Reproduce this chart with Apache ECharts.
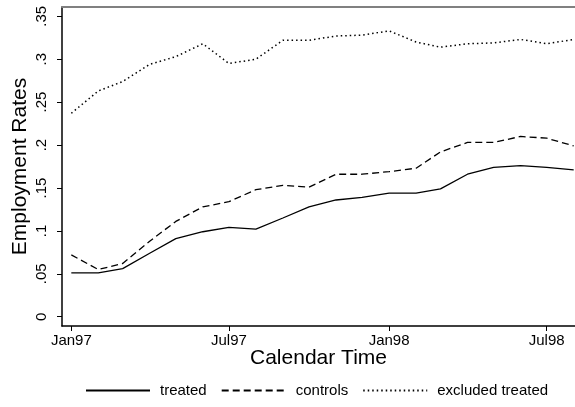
<!DOCTYPE html>
<html>
<head>
<meta charset="utf-8">
<script src="https://cdn.jsdelivr.net/npm/echarts@6/dist/echarts.min.js"></script>
<style>html,body{margin:0;padding:0;background:#fff}#c{width:575px;height:407px}</style>
</head>
<body>
<div id="c"></div>
<script>
// Monthly observations, Jan 1997 .. Aug 1998
var months = ['1997-01','1997-02','1997-03','1997-04','1997-05','1997-06','1997-07','1997-08','1997-09','1997-10','1997-11','1997-12',
              '1998-01','1998-02','1998-03','1998-04','1998-05','1998-06','1998-07','1998-08'];
var treated  = [0.051,0.051,0.056,0.074,0.091,0.099,0.104,0.102,0.115,0.128,0.136,0.139,0.144,0.144,0.149,0.166,0.174,0.176,0.174,0.171];
var controls = [0.072,0.055,0.062,0.088,0.111,0.128,0.134,0.148,0.153,0.151,0.166,0.166,0.169,0.173,0.192,0.203,0.203,0.210,0.208,0.199];
var excluded = [0.237,0.263,0.274,0.294,0.303,0.318,0.295,0.300,0.322,0.322,0.327,0.328,0.333,0.320,0.314,0.318,0.319,0.323,0.318,0.323];
var xTickMonths = ['1997-01','1997-07','1998-01','1998-07'];
var yTicks = [0,0.05,0.1,0.15,0.2,0.25,0.3,0.35];
var yTickLabels = ['0','.05','.1','.15','.2','.25','.3','.35'];
var seriesNames = ['treated','controls','excluded treated'];

// x positions: days since 1 Jan 1997 (UTC arithmetic, no timezone effects)
var DAY=86400000;
function dayOf(m){var p=m.split('-');return (Date.UTC(+p[0],+p[1]-1,1)-Date.UTC(1997,0,1))/DAY;}
var monAbbr=['Jan','Feb','Mar','Apr','May','Jun','Jul','Aug','Sep','Oct','Nov','Dec'];
function labelOf(day){var d=new Date(Date.UTC(1997,0,1)+Math.round(day)*DAY);return monAbbr[d.getUTCMonth()]+String(d.getUTCFullYear()).slice(2);}
function pairs(vals){return months.map(function(m,i){return [dayOf(m),vals[i]];});}
var xTicks=xTickMonths.map(dayOf);
var xMin=-10.7, xMax=dayOf('1998-07')+32.5;

var font='Liberation Sans';
var chart=echarts.init(document.getElementById('c'),null,{renderer:'canvas'});
chart.setOption({
  animation:false,
  backgroundColor:'#fff',
  textStyle:{fontFamily:font,color:'#000'},
  grid:{left:62,right:0,top:7,bottom:81,containLabel:false},
  xAxis:[{
    type:'value',min:xMin,max:xMax,
    name:'Calendar Time',nameLocation:'middle',nameGap:22,nameMoveOverlap:false,
    nameTextStyle:{fontSize:21,color:'#000',fontFamily:font},
    axisLine:{show:true,onZero:false,lineStyle:{color:'#000',width:1.5}},
    axisTick:{show:true,length:5,lineStyle:{color:'#000',width:1},customValues:xTicks},
    axisLabel:{fontSize:15,color:'#000',fontFamily:font,margin:7,customValues:xTicks,formatter:function(v){return labelOf(v);}},
    splitLine:{show:false}
  },{
    type:'value',position:'top',min:xMin,max:xMax,
    axisLine:{show:true,onZero:false,lineStyle:{color:'#808080',width:2}},
    axisTick:{show:false},axisLabel:{show:false},splitLine:{show:false}
  }],
  yAxis:{
    type:'value',
    min:-0.0108,max:0.3608,
    name:'Employment Rates',nameLocation:'middle',nameGap:31,nameMoveOverlap:false,
    nameTextStyle:{fontSize:21,color:'#000',fontFamily:font},
    axisLine:{show:true,onZero:false,lineStyle:{color:'#000',width:1.5}},
    axisTick:{show:true,length:5,lineStyle:{color:'#000',width:1},customValues:yTicks},
    axisLabel:{fontSize:15,color:'#000',fontFamily:font,rotate:90,margin:13,customValues:yTicks,
      formatter:function(v){for(var i=0;i<yTicks.length;i++){if(Math.abs(yTicks[i]-v)<1e-9)return yTickLabels[i];}return '';}},
    splitLine:{show:false}
  },
  legend:{
    left:80,top:378,itemWidth:64,itemHeight:14,itemGap:14,
    itemStyle:{opacity:0},
    textStyle:{fontSize:15,color:'#000',fontFamily:font,padding:[0,0,0,5]},
    data:seriesNames
  },
  series:[
    {name:seriesNames[0],type:'line',data:pairs(treated),symbol:'none',lineStyle:{color:'#000',width:1.3,type:'solid'},itemStyle:{color:'#000'}},
    {name:seriesNames[1],type:'line',data:pairs(controls),symbol:'none',lineStyle:{color:'#000',width:1.3,type:[7,4]},itemStyle:{color:'#000'}},
    {name:seriesNames[2],type:'line',data:pairs(excluded),symbol:'none',lineStyle:{color:'#000',width:1.5,type:[1.5,3]},itemStyle:{color:'#000'}}
  ]
});
</script>
</body>
</html>
